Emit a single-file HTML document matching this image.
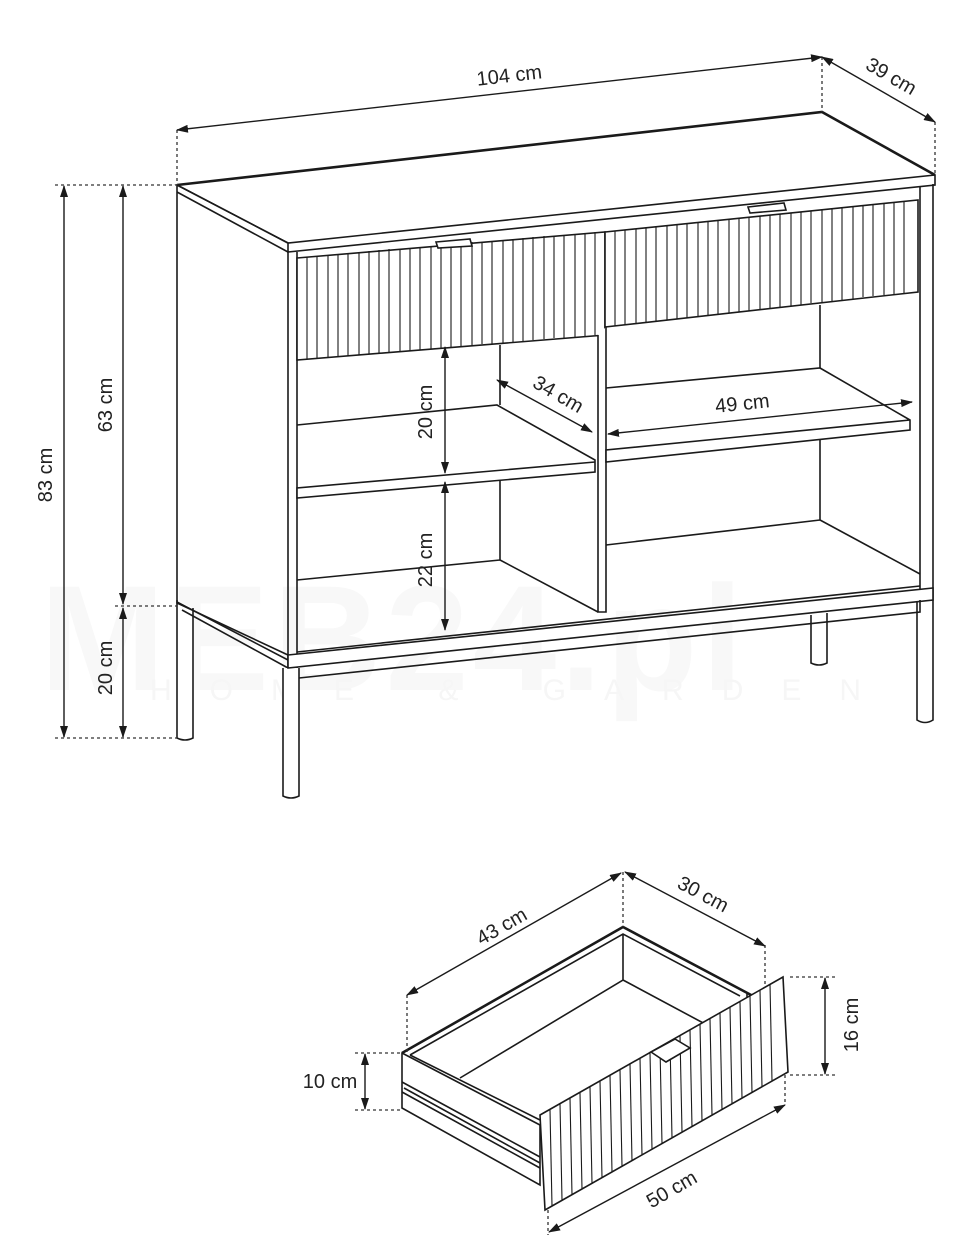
<!DOCTYPE html>
<html><head><meta charset="utf-8"><style>
html,body{margin:0;padding:0;background:#fff;}
svg{display:block;}
text{font-family:"Liberation Sans",sans-serif;font-size:20px;fill:#222;}
.l{stroke:#1a1a1a;stroke-width:1.6;fill:none;}
.t{stroke:#1a1a1a;stroke-width:2.6;fill:none;}
.f{stroke:#1a1a1a;stroke-width:1.6;fill:#fff;}
.d{stroke:#333;stroke-width:1.3;stroke-dasharray:3 3;fill:none;}
.a{stroke:#1a1a1a;stroke-width:1.4;fill:none;marker-start:url(#ah);marker-end:url(#ah);}
.fl{stroke:#1a1a1a;stroke-width:1.1;}
</style></head><body>
<svg width="970" height="1246" viewBox="0 0 970 1246" xmlns="http://www.w3.org/2000/svg">
<defs>
<marker id="ah" viewBox="0 0 12 8" refX="11" refY="4" markerWidth="12" markerHeight="8" orient="auto-start-reverse" markerUnits="userSpaceOnUse">
<path d="M0,0 L12,4 L0,8 z" fill="#1a1a1a"/>
</marker>
</defs>
<!-- watermark -->
<text x="40" y="690" style="font-size:150px;font-weight:bold;fill:#f8f8f8;letter-spacing:4px">MEB24.pl</text>
<text x="150" y="700" style="font-size:30px;fill:#f6f6f6;letter-spacing:38px">HOME &amp; GARDEN</text>

<!-- CABINET -->
<path class="f" d="M177,600 L177,738 Q185,742 193,738 L193,608"/>
<path class="f" d="M811,615 L811,663 Q819,667 827,663 L827,613"/>
<path class="f" d="M917,597 L917,720 Q925,725 933,720 L933,590"/>
<path class="l" d="M177,185 L177,603 L288,655"/>
<path class="l" d="M177,602 L288,660 M182,610 L288,668"/>
<path class="f" d="M177,185 L822,112 L935,175 L935,185 L288,252 L288,243 Z"/>
<path class="t" d="M177,185 L822,112 L935,175"/>
<path class="l" d="M177,185 L288,243 L935,175 M177,192 L288,252"/>
<path class="l" d="M920,186 L920,590 M933,184 L933,590"/>
<path class="l" d="M288,252 L288,668 M297,252 L297,668"/>
<path class="f" d="M283,668 L283,796 Q291,800 299,796 L299,668"/>
<path class="f" d="M288,655 L933,588 L933,600 L288,668 Z"/>
<path class="l" d="M299,678 L920,612 L920,600"/>
<path class="l" d="M297,652 L920,586"/>
<path class="f" d="M297,258 L605,232 L605,335 L297,360 Z"/>
<path class="f" d="M605,232 L918,200 L918,292 L605,327 Z"/>
<g>
<line class="fl" x1="307" y1="257" x2="307" y2="359"/><line class="fl" x1="317" y1="256" x2="317" y2="358"/><line class="fl" x1="328" y1="255" x2="328" y2="357"/><line class="fl" x1="338" y1="254" x2="338" y2="357"/><line class="fl" x1="348" y1="253" x2="348" y2="356"/><line class="fl" x1="359" y1="252" x2="359" y2="355"/><line class="fl" x1="369" y1="251" x2="369" y2="354"/><line class="fl" x1="379" y1="250" x2="379" y2="353"/><line class="fl" x1="389" y1="249" x2="389" y2="352"/><line class="fl" x1="400" y1="249" x2="400" y2="351"/><line class="fl" x1="410" y1="248" x2="410" y2="351"/><line class="fl" x1="420" y1="247" x2="420" y2="350"/><line class="fl" x1="431" y1="246" x2="431" y2="349"/><line class="fl" x1="441" y1="245" x2="441" y2="348"/><line class="fl" x1="451" y1="244" x2="451" y2="347"/><line class="fl" x1="461" y1="243" x2="461" y2="346"/><line class="fl" x1="472" y1="242" x2="472" y2="345"/><line class="fl" x1="482" y1="242" x2="482" y2="344"/><line class="fl" x1="492" y1="241" x2="492" y2="344"/><line class="fl" x1="503" y1="240" x2="503" y2="343"/><line class="fl" x1="513" y1="239" x2="513" y2="342"/><line class="fl" x1="523" y1="238" x2="523" y2="341"/><line class="fl" x1="533" y1="237" x2="533" y2="340"/><line class="fl" x1="544" y1="236" x2="544" y2="339"/><line class="fl" x1="554" y1="236" x2="554" y2="338"/><line class="fl" x1="564" y1="235" x2="564" y2="338"/><line class="fl" x1="575" y1="234" x2="575" y2="337"/><line class="fl" x1="585" y1="233" x2="585" y2="336"/><line class="fl" x1="595" y1="232" x2="595" y2="335"/>
<line class="fl" x1="615" y1="231" x2="615" y2="326"/><line class="fl" x1="625" y1="230" x2="625" y2="325"/><line class="fl" x1="636" y1="229" x2="636" y2="324"/><line class="fl" x1="646" y1="228" x2="646" y2="322"/><line class="fl" x1="656" y1="227" x2="656" y2="321"/><line class="fl" x1="667" y1="226" x2="667" y2="320"/><line class="fl" x1="677" y1="225" x2="677" y2="319"/><line class="fl" x1="687" y1="224" x2="687" y2="318"/><line class="fl" x1="698" y1="222" x2="698" y2="316"/><line class="fl" x1="708" y1="221" x2="708" y2="315"/><line class="fl" x1="718" y1="220" x2="718" y2="314"/><line class="fl" x1="729" y1="219" x2="729" y2="313"/><line class="fl" x1="739" y1="218" x2="739" y2="312"/><line class="fl" x1="749" y1="217" x2="749" y2="311"/><line class="fl" x1="760" y1="216" x2="760" y2="309"/><line class="fl" x1="770" y1="215" x2="770" y2="308"/><line class="fl" x1="780" y1="214" x2="780" y2="307"/><line class="fl" x1="791" y1="213" x2="791" y2="306"/><line class="fl" x1="801" y1="212" x2="801" y2="305"/><line class="fl" x1="811" y1="211" x2="811" y2="303"/><line class="fl" x1="822" y1="210" x2="822" y2="302"/><line class="fl" x1="832" y1="209" x2="832" y2="301"/><line class="fl" x1="842" y1="208" x2="842" y2="300"/><line class="fl" x1="853" y1="207" x2="853" y2="299"/><line class="fl" x1="863" y1="206" x2="863" y2="297"/><line class="fl" x1="873" y1="205" x2="873" y2="296"/><line class="fl" x1="884" y1="204" x2="884" y2="295"/><line class="fl" x1="894" y1="203" x2="894" y2="294"/><line class="fl" x1="904" y1="202" x2="904" y2="293"/>
</g>
<path class="f" d="M436,242 L470,239 L472,246 L438,248 Z"/>
<path class="f" d="M748,207 L784,203 L786,210 L750,213 Z"/>
<path class="l" d="M500,345 L500,405 M500,480 L500,560 L598,612 M297,580 L500,560"/>
<path class="l" d="M820,305 L820,368 M820,438 L820,520 L920,574 M606,545 L820,520"/>
<path class="f" d="M598,335 L598,612 L606,612 L606,327"/>
<path class="f" d="M297,425 L497,405 L595,460 L595,472 L297,498 L297,488 L595,462"/>
<path class="f" d="M606,388 L820,368 L910,420 L910,430 L606,462 L606,450 L910,420"/>
<line class="a" x1="445" y1="347" x2="445" y2="473"/>
<line class="a" x1="445" y1="482" x2="445" y2="630"/>
<line class="a" x1="497" y1="380" x2="592" y2="432"/>
<line class="a" x1="608" y1="434" x2="912" y2="402"/>
<text transform="translate(432,412) rotate(-90)" text-anchor="middle">20 cm</text>
<text transform="translate(432,560) rotate(-90)" text-anchor="middle">22 cm</text>
<text transform="translate(555,400) rotate(30)" text-anchor="middle">34 cm</text>
<text x="743" y="410" text-anchor="middle" transform="rotate(-6 743 410)">49 cm</text>
<path class="d" d="M177,130 L177,185 M822,57 L822,112 M935,122 L935,175 M55,185 L177,185 M115,606 L177,606 M55,738 L177,738"/>
<line class="a" x1="177" y1="130" x2="822" y2="57"/>
<line class="a" x1="822" y1="57" x2="935" y2="122"/>
<line class="a" x1="64" y1="186" x2="64" y2="737"/>
<line class="a" x1="123" y1="186" x2="123" y2="604"/>
<line class="a" x1="123" y1="608" x2="123" y2="737"/>
<text x="510" y="82" text-anchor="middle" transform="rotate(-6.5 510 82)">104 cm</text>
<text x="888" y="82" text-anchor="middle" transform="rotate(30 888 82)">39 cm</text>
<text transform="translate(52,475) rotate(-90)" text-anchor="middle">83 cm</text>
<text transform="translate(112,405) rotate(-90)" text-anchor="middle">63 cm</text>
<text transform="translate(112,668) rotate(-90)" text-anchor="middle">20 cm</text>

<!-- DRAWER -->
<path class="f" d="M402,1053 L623,927 L747,993 L747,1000 L540,1125 L540,1185 L402,1108 Z"/>
<path class="t" d="M402,1053 L623,927 L770,1005"/>
<path class="l" d="M410,1055 L623,934 L740,996 M623,934 L623,980 L460,1078 M623,980 L735,1040"/>
<path class="l" d="M402,1053 L540,1125 M410,1055 L540,1120"/>
<path class="l" d="M402,1082 L540,1157 M404,1088 L540,1163 M402,1092 L540,1168"/>
<path class="f" d="M540,1115 L783,977 L788,1072 L545,1210 Z"/>
<g>
<line class="fl" x1="550" y1="1110" x2="552" y2="1206"/><line class="fl" x1="560" y1="1104" x2="562" y2="1200"/><line class="fl" x1="570" y1="1098" x2="572" y2="1195"/><line class="fl" x1="580" y1="1093" x2="582" y2="1189"/><line class="fl" x1="590" y1="1087" x2="592" y2="1183"/><line class="fl" x1="600" y1="1081" x2="602" y2="1178"/><line class="fl" x1="610" y1="1075" x2="612" y2="1172"/><line class="fl" x1="620" y1="1070" x2="622" y2="1166"/><line class="fl" x1="630" y1="1064" x2="632" y2="1161"/><line class="fl" x1="640" y1="1058" x2="642" y2="1155"/><line class="fl" x1="650" y1="1053" x2="652" y2="1149"/><line class="fl" x1="660" y1="1047" x2="662" y2="1144"/><line class="fl" x1="670" y1="1041" x2="672" y2="1138"/><line class="fl" x1="680" y1="1036" x2="682" y2="1132"/><line class="fl" x1="690" y1="1030" x2="692" y2="1127"/><line class="fl" x1="700" y1="1024" x2="702" y2="1121"/><line class="fl" x1="710" y1="1019" x2="712" y2="1115"/><line class="fl" x1="720" y1="1013" x2="722" y2="1110"/><line class="fl" x1="730" y1="1007" x2="732" y2="1104"/><line class="fl" x1="740" y1="1002" x2="742" y2="1098"/><line class="fl" x1="750" y1="996" x2="752" y2="1093"/><line class="fl" x1="760" y1="990" x2="762" y2="1087"/><line class="fl" x1="770" y1="984" x2="772" y2="1081"/>
</g>
<path class="f" d="M651,1052 L675,1039 L690,1048 L666,1062 Z"/>
<path class="d" d="M407,995 L407,1053 M623,872 L623,927 M765,945 L765,985 M355,1053 L402,1053 M355,1110 L402,1110 M790,977 L838,977 M790,1075 L838,1075 M548,1210 L548,1235 M785,1075 L785,1105"/>
<line class="a" x1="407" y1="995" x2="621" y2="873"/>
<line class="a" x1="625" y1="872" x2="765" y2="946"/>
<line class="a" x1="825" y1="978" x2="825" y2="1074"/>
<line class="a" x1="365" y1="1054" x2="365" y2="1109"/>
<line class="a" x1="549" y1="1232" x2="785" y2="1105"/>
<text x="505" y="932" text-anchor="middle" transform="rotate(-30 505 932)">43 cm</text>
<text x="700" y="900" text-anchor="middle" transform="rotate(28 700 900)">30 cm</text>
<text transform="translate(858,1025) rotate(-90)" text-anchor="middle">16 cm</text>
<text x="330" y="1088" text-anchor="middle">10 cm</text>
<text x="675" y="1195" text-anchor="middle" transform="rotate(-30 675 1195)">50 cm</text>
</svg>
</body></html>
